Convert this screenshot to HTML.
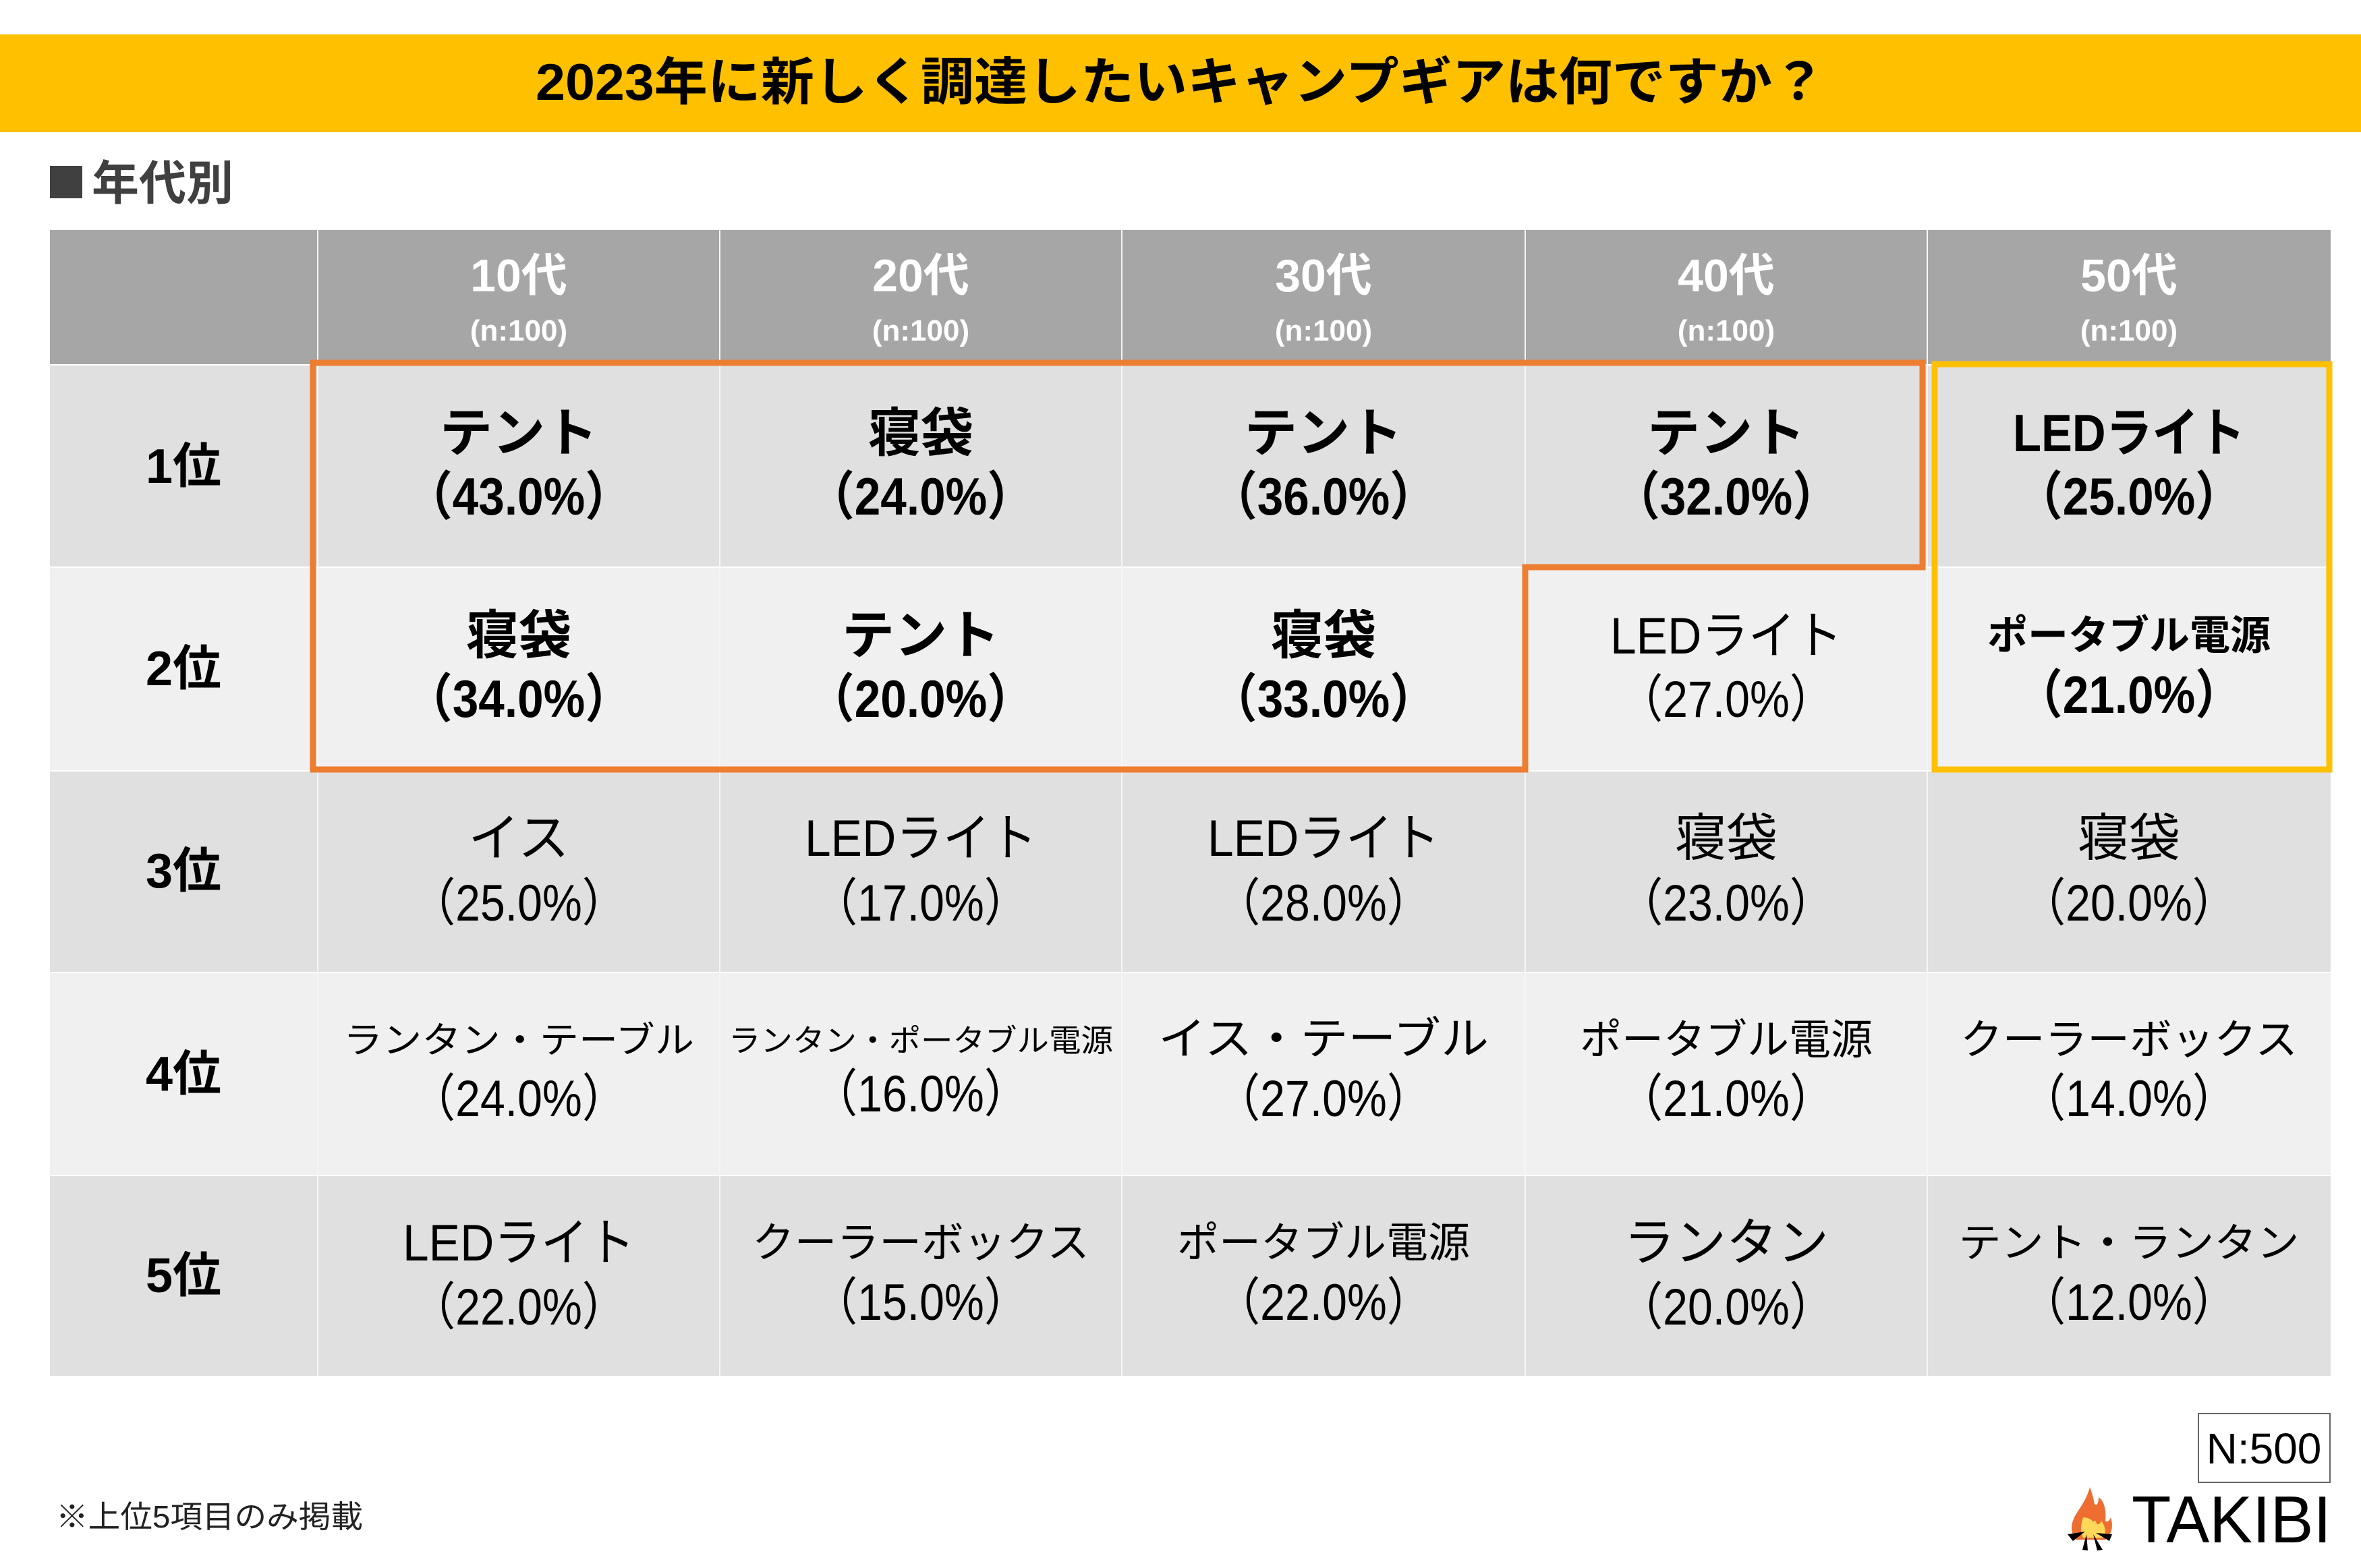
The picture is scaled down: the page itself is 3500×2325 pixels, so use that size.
<!DOCTYPE html>
<html><head><meta charset="utf-8"><style>
html,body{margin:0;padding:0;background:#fff;}
svg{display:block;}
text{font-family:"Liberation Sans","Noto Sans CJK JP",sans-serif;}
</style></head><body>
<svg width="3500" height="2325" viewBox="0 0 3500 2325" xmlns="http://www.w3.org/2000/svg">
<rect x="0" y="0" width="3500" height="2325" fill="#fff"/>
<rect x="0" y="51" width="3500" height="145" fill="#FFC000"/>
<text x="1750" y="148" font-size="76" font-weight="bold" text-anchor="middle" fill="#000" textLength="1912" lengthAdjust="spacingAndGlyphs">2023年に新しく調達したいキャンプギアは何ですか？</text>
<rect x="74" y="246" width="48" height="48" fill="#404040"/>
<text x="136" y="296" font-size="70" font-weight="bold" fill="#404040">年代別</text>

<rect x="74" y="341" width="3381" height="200" fill="#A6A6A6"/>
<rect x="74" y="541" width="3381" height="300" fill="#E0E0E0"/>
<rect x="74" y="841" width="3381" height="302" fill="#F0F0F0"/>
<rect x="74" y="1143" width="3381" height="299" fill="#E0E0E0"/>
<rect x="74" y="1442" width="3381" height="301" fill="#F0F0F0"/>
<rect x="74" y="1743" width="3381" height="297" fill="#E0E0E0"/>
<g stroke="#fff" stroke-width="2">
<line x1="74" y1="541" x2="3455" y2="541"/>
<line x1="74" y1="841" x2="3455" y2="841"/>
<line x1="74" y1="1143" x2="3455" y2="1143"/>
<line x1="74" y1="1442" x2="3455" y2="1442"/>
<line x1="74" y1="1743" x2="3455" y2="1743"/>
</g>
<g stroke="#f6f6f6" stroke-width="2">
<line x1="471" y1="341" x2="471" y2="2040"/>
<line x1="1067" y1="341" x2="1067" y2="2040"/>
<line x1="1663" y1="341" x2="1663" y2="2040"/>
<line x1="2261" y1="341" x2="2261" y2="2040"/>
<line x1="2857" y1="341" x2="2857" y2="2040"/>
</g>

<g fill="#fff" font-weight="bold" text-anchor="middle">
<g font-size="68"><text x="769" y="432">10代</text><text x="1365" y="432">20代</text><text x="1962" y="432">30代</text><text x="2559" y="432">40代</text><text x="3156" y="432">50代</text></g>
<g font-size="44"><text x="769" y="505">(n:100)</text><text x="1365" y="505">(n:100)</text><text x="1962" y="505">(n:100)</text><text x="2559" y="505">(n:100)</text><text x="3156" y="505">(n:100)</text></g>
</g>

<g fill="#000" font-weight="bold" text-anchor="middle" font-size="72">
<text x="272" y="716">1位</text>
<text x="272" y="1016">2位</text>
<text x="272" y="1316">3位</text>
<text x="272" y="1617">4位</text>
<text x="272" y="1916">5位</text>
</g>

<g fill="#000" font-weight="bold" text-anchor="middle" font-size="78">
<text x="769" y="669">テント</text><text x="769" y="763" textLength="335" lengthAdjust="spacingAndGlyphs">（43.0%）</text>
<text x="1365" y="669">寝袋</text><text x="1365" y="763" textLength="335" lengthAdjust="spacingAndGlyphs">（24.0%）</text>
<text x="1962" y="669">テント</text><text x="1962" y="763" textLength="335" lengthAdjust="spacingAndGlyphs">（36.0%）</text>
<text x="2559" y="669">テント</text><text x="2559" y="763" textLength="335" lengthAdjust="spacingAndGlyphs">（32.0%）</text>
<text x="3156" y="669" textLength="344" lengthAdjust="spacingAndGlyphs">LEDライト</text><text x="3156" y="763" textLength="335" lengthAdjust="spacingAndGlyphs">（25.0%）</text>
<text x="769" y="969">寝袋</text><text x="769" y="1063" textLength="335" lengthAdjust="spacingAndGlyphs">（34.0%）</text>
<text x="1365" y="969">テント</text><text x="1365" y="1063" textLength="335" lengthAdjust="spacingAndGlyphs">（20.0%）</text>
<text x="1962" y="969">寝袋</text><text x="1962" y="1063" textLength="335" lengthAdjust="spacingAndGlyphs">（33.0%）</text>
<text x="3156" y="1057" textLength="335" lengthAdjust="spacingAndGlyphs">（21.0%）</text>
</g>
<text x="3156" y="963" fill="#000" font-weight="bold" text-anchor="middle" font-size="60">ポータブル電源</text>

<g fill="#000" text-anchor="middle" font-size="76">
<text x="2559" y="969" textLength="344" lengthAdjust="spacingAndGlyphs">LEDライト</text><text x="2559" y="1063" textLength="320" lengthAdjust="spacingAndGlyphs">（27.0%）</text>
<text x="769" y="1269">イス</text><text x="769" y="1365" textLength="320" lengthAdjust="spacingAndGlyphs">（25.0%）</text>
<text x="1365" y="1269" textLength="344" lengthAdjust="spacingAndGlyphs">LEDライト</text><text x="1365" y="1365" textLength="320" lengthAdjust="spacingAndGlyphs">（17.0%）</text>
<text x="1962" y="1269" textLength="344" lengthAdjust="spacingAndGlyphs">LEDライト</text><text x="1962" y="1365" textLength="320" lengthAdjust="spacingAndGlyphs">（28.0%）</text>
<text x="2559" y="1269">寝袋</text><text x="2559" y="1365" textLength="320" lengthAdjust="spacingAndGlyphs">（23.0%）</text>
<text x="3156" y="1269">寝袋</text><text x="3156" y="1365" textLength="320" lengthAdjust="spacingAndGlyphs">（20.0%）</text>
<text x="769" y="1655" textLength="320" lengthAdjust="spacingAndGlyphs">（24.0%）</text>
<text x="1365" y="1648" textLength="320" lengthAdjust="spacingAndGlyphs">（16.0%）</text>
<text x="1962" y="1655" textLength="320" lengthAdjust="spacingAndGlyphs">（27.0%）</text>
<text x="2559" y="1655" textLength="320" lengthAdjust="spacingAndGlyphs">（21.0%）</text>
<text x="3156" y="1655" textLength="320" lengthAdjust="spacingAndGlyphs">（14.0%）</text>
<text x="769" y="1869" textLength="344" lengthAdjust="spacingAndGlyphs">LEDライト</text><text x="769" y="1964" textLength="320" lengthAdjust="spacingAndGlyphs">（22.0%）</text>
<text x="1365" y="1957" textLength="320" lengthAdjust="spacingAndGlyphs">（15.0%）</text>
<text x="1962" y="1957" textLength="320" lengthAdjust="spacingAndGlyphs">（22.0%）</text>
<text x="2559" y="1869">ランタン</text><text x="2559" y="1964" textLength="320" lengthAdjust="spacingAndGlyphs">（20.0%）</text>
<text x="3156" y="1957" textLength="320" lengthAdjust="spacingAndGlyphs">（12.0%）</text>
</g>
<g fill="#000" text-anchor="middle">
<text x="769" y="1561" font-size="54" textLength="520" lengthAdjust="spacingAndGlyphs">ランタン・テーブル</text>
<text x="1365" y="1559" font-size="46" textLength="570" lengthAdjust="spacingAndGlyphs">ランタン・ポータブル電源</text>
<text x="1962" y="1563" font-size="66" textLength="490" lengthAdjust="spacingAndGlyphs">イス・テーブル</text>
<text x="2559" y="1563" font-size="62">ポータブル電源</text>
<text x="3156" y="1563" font-size="62" textLength="500" lengthAdjust="spacingAndGlyphs">クーラーボックス</text>
<text x="1365" y="1864" font-size="62" textLength="500" lengthAdjust="spacingAndGlyphs">クーラーボックス</text>
<text x="1962" y="1864" font-size="62">ポータブル電源</text>
<text x="3156" y="1864" font-size="60" textLength="505" lengthAdjust="spacingAndGlyphs">テント・ランタン</text>
</g>

<polygon points="464,538 2850,538 2850,841 2261,841 2261,1141 464,1141" fill="none" stroke="#ED7D31" stroke-width="9"/>
<rect x="2868" y="540" width="585" height="601" fill="none" stroke="#FFC000" stroke-width="9"/>

<text x="83" y="2265" font-size="46" fill="#222" textLength="455" lengthAdjust="spacingAndGlyphs">※上位5項目のみ掲載</text>
<rect x="3259" y="2096" width="195" height="102" fill="#fff" stroke="#666" stroke-width="2"/>
<text x="3356" y="2170" font-size="64" text-anchor="middle" fill="#000">N:500</text>
<g transform="translate(3063,2195)">
<path d="M35,10 C30,30 20,40 12,55 C5,70 8,80 15,88 L58,88 C68,80 70,68 66,55 C63,62 60,62 58,60 C60,45 56,30 48,25 C48,35 45,38 42,35 C40,25 38,18 35,10 Z" fill="#ED6E30"/>
<path d="M25,55 C22,65 20,75 25,85 L55,85 C60,78 58,68 52,60 C50,66 47,66 45,64 C44,60 42,58 40,62 C38,58 32,55 25,55 Z" fill="#FFD85A"/>
<path d="M2,80 L28,76 L10,90 Z M30,80 L24,103 L32,104 Z M40,80 L46,104 L54,103 Z M44,78 L68,80 L64,90 Z" fill="#000"/>
</g>
<text x="3160" y="2287" font-size="98" fill="#000" textLength="296" lengthAdjust="spacingAndGlyphs">TAKIBI</text>
</svg>
</body></html>
